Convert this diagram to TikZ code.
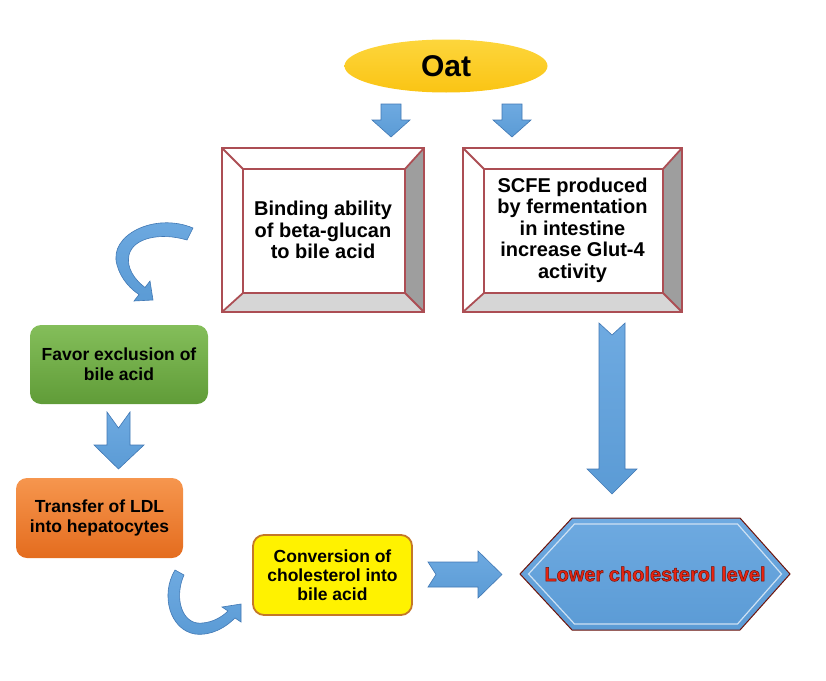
\documentclass[tikz,border=0pt]{standalone}
\usepackage{fontspec}
\setmainfont{Liberation Sans}
\newfontfamily\hexfont[FakeBold=2.5]{Liberation Sans Bold}
\usetikzlibrary{calc,shapes.geometric}

\definecolor{oatgold}{RGB}{250,196,20}
\definecolor{oatlight}{RGB}{253,214,60}
\definecolor{arrowblue}{RGB}{91,155,213}
\definecolor{arrowlight}{RGB}{110,170,225}
\definecolor{arrowdark}{RGB}{65,120,180}
\definecolor{framered}{RGB}{172,78,84}
\definecolor{framegray}{RGB}{158,158,158}
\definecolor{framelight}{RGB}{214,214,214}
\definecolor{greentop}{RGB}{132,190,90}
\definecolor{greenbot}{RGB}{96,156,56}
\definecolor{orangetop}{RGB}{246,150,78}
\definecolor{orangebot}{RGB}{228,108,30}
\definecolor{convborder}{RGB}{196,120,40}
\definecolor{hexred}{RGB}{232,36,18}
\definecolor{hexdark}{RGB}{110,20,10}

\tikzset{
  frametext/.style={align=center,inner sep=0,outer sep=0,
    font=\fontsize{20}{21.5}\selectfont\bfseries},
  roundbox/.style={rounded corners=11,align=center,inner sep=0,outer sep=0,
    font=\fontsize{17.5}{20}\selectfont\bfseries},
  blockarrow/.style={top color=arrowlight,bottom color=arrowblue,draw=arrowdark,line width=0.6},
  frameline/.style={draw=framered,line width=1.8}
}

% bevelled frame round a node
\newcommand{\bevelframe}[1]{%
  \coordinate (#1-a) at ($(#1.north west)+(21,21)$);
  \coordinate (#1-b) at ($(#1.north east)+(-19,21)$);
  \coordinate (#1-c) at ($(#1.south east)+(-19,-19)$);
  \coordinate (#1-d) at ($(#1.south west)+(21,-19)$);
  \fill[framegray] (#1.north east) -- (#1.south east) -- (#1-c) -- (#1-b) -- cycle;
  \fill[framelight] (#1.south west) -- (#1.south east) -- (#1-c) -- (#1-d) -- cycle;
  \draw[frameline] (#1.north west) rectangle (#1.south east) (#1-a) rectangle (#1-c)
    (#1.north west) -- (#1-a) (#1.north east) -- (#1-b)
    (#1.south east) -- (#1-c) (#1.south west) -- (#1-d);
}

\begin{document}
\begin{tikzpicture}[x=1pt,y=-1pt]
\useasboundingbox (0,0) rectangle (826,680);

\node[ellipse,top color=oatlight,bottom color=oatgold,minimum width=203,minimum height=53,
  inner sep=0,font=\fontsize{30}{34}\selectfont\bfseries] (oat) at (446,66) {Oat};

\draw[blockarrow] (381,104) -- (401,104) -- (401,120) -- (410,120) -- (391,137) -- (372,120) -- (381,120) -- cycle;
\draw[blockarrow] (502,104) -- (522,104) -- (522,120) -- (531,120) -- (512,137) -- (493,120) -- (502,120) -- cycle;

\node[frametext,minimum width=202,minimum height=164] (bind) at (323,230) {Binding ability\\of beta-glucan\\to bile acid};
\bevelframe{bind}
\node[frametext,minimum width=219,minimum height=164] (scfe) at (572.5,230) {SCFE produced\\by fermentation\\in intestine\\increase Glut-4\\activity};
\bevelframe{scfe}

% curved arrow to the green box
\draw[blockarrow] (193,228) .. controls (155,212) and (108,235) .. (117,265)
  .. controls (121,280) and (132,290) .. (139,294.5) -- (134,301) -- (153,300) -- (150,281) -- (145,287.5)
  .. controls (135,280) and (126,268) .. (129,255) .. controls (133,238) and (160,232) .. (187,240) -- cycle;

\node[roundbox,top color=greentop,bottom color=greenbot,minimum width=178,minimum height=79] (favor) at (119,364.5) {Favor exclusion of\\bile acid};

\draw[blockarrow] (107,412) -- (118.5,428) -- (130,412) -- (130,445) -- (144,445) -- (118.5,469) -- (94,445) -- (107,445) -- cycle;

\node[roundbox,top color=orangetop,bottom color=orangebot,minimum width=167,minimum height=80] (transfer) at (99.5,518) {Transfer of LDL\\into hepatocytes};

% curved arrow to the yellow box
\draw[blockarrow] (175,570) .. controls (160,595) and (170,630) .. (195,634)
  .. controls (212,636) and (226,627) .. (235,618) -- (241,622) -- (241,604) -- (222,607) -- (228,611)
  .. controls (220,619) and (208,624) .. (197,623) .. controls (180,620) and (175,595) .. (184,575) -- cycle;

\node[roundbox,fill=yellow,draw=convborder,line width=1.8,minimum width=159,minimum height=80,
  font=\fontsize{17.5}{19}\selectfont\bfseries] (conv) at (332.5,575) {Conversion of\\cholesterol into\\bile acid};

\draw[blockarrow] (428,562) -- (478,562) -- (478,551) -- (502,574.5) -- (478,598) -- (478,587) -- (428,587) -- (436,574.5) -- cycle;
\draw[blockarrow] (599,323) -- (612,335) -- (625,323) -- (625,469) -- (637,469) -- (612,494) -- (587,469) -- (599,469) -- cycle;

% hexagon
\coordinate (hexc) at (655,574);
\draw[top color=arrowlight,bottom color=arrowblue,draw=hexdark,line width=1]
  ($(hexc)+(-135,0)$) -- ($(hexc)+(-83,-56)$) -- ($(hexc)+(85,-56)$) -- ($(hexc)+(135,0)$)
  -- ($(hexc)+(85,56)$) -- ($(hexc)+(-83,56)$) -- cycle;
\draw[white!70!arrowblue,line width=1.2] ($(hexc)+(-126.5,0)$) -- ($(hexc)+(-80.5,-50)$)
  -- ($(hexc)+(82.5,-50)$) -- ($(hexc)+(126.5,0)$) -- ($(hexc)+(82.5,50)$)
  -- ($(hexc)+(-80.5,50)$) -- cycle;
\node[inner sep=0,font=\fontsize{20}{24}\selectfont\hexfont] (lower) at (hexc)
  {\color{hexred}\special{pdf:code 0.43 0.08 0.04 RG}Lower cholesterol level};
\end{tikzpicture}
\end{document}
